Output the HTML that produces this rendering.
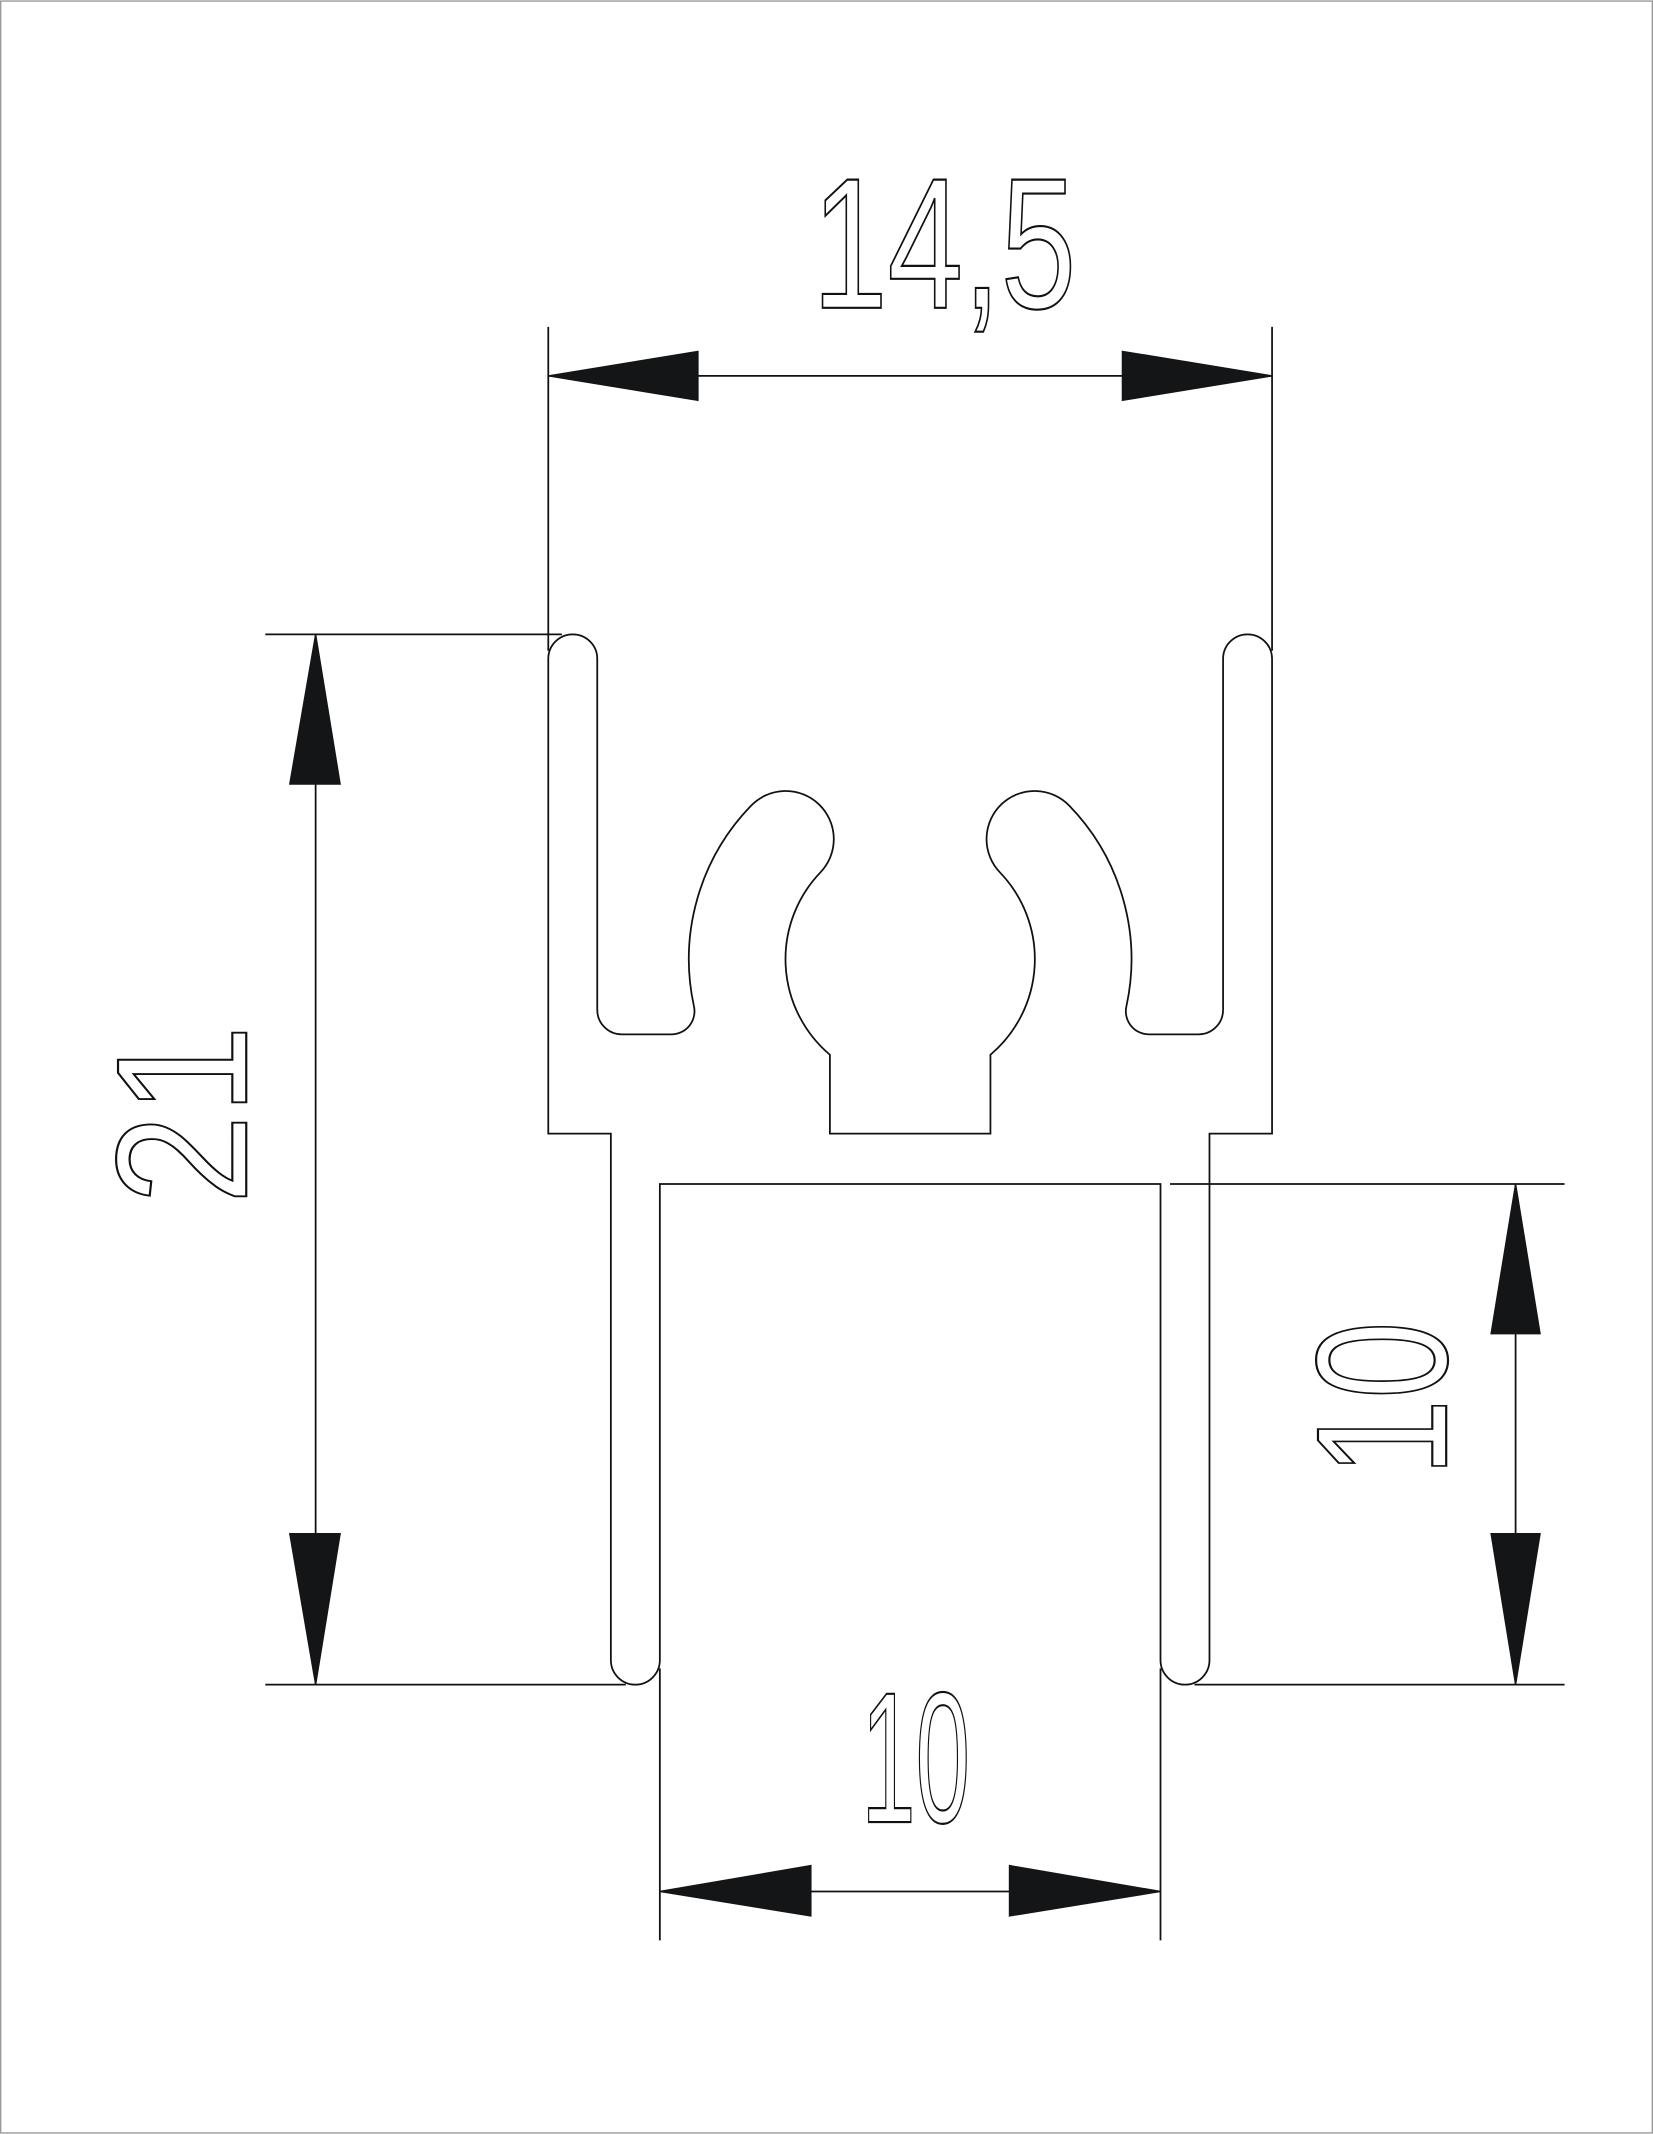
<!DOCTYPE html>
<html><head><meta charset="utf-8">
<style>html,body{margin:0;padding:0;background:#fff}svg{display:block}</style>
</head><body>
<svg xmlns="http://www.w3.org/2000/svg" width="1653" height="2134" viewBox="0 0 1215 1568">
<rect x="0.5" y="0.5" width="1214" height="1567" fill="#fff" stroke="#999" stroke-width="1"/>
<g fill="none" stroke="#111" stroke-width="1.3">
<path d="M403,484 A18,18 0 0 1 439,484 L439,742 A18,18 0 0 0 457,760 L493,760 A17,17 0 0 0 510,739 A162,162 0 0 1 552,592 A35,35 0 0 1 603,641 A92,92 0 0 0 610,775 L610,833 L728,833 L728,775 A92,92 0 0 0 735,641 A35,35 0 0 1 786,592 A162,162 0 0 1 828,739 A17,17 0 0 0 845,760 L881,760 A18,18 0 0 0 899,742 L899,484 A18,18 0 0 1 935,484 L935,833 L889,833 L889,1220 A18,18 0 0 1 853,1220 L853,870 L485,870 L485,1220 A18,18 0 0 1 449,1220 L449,833 L403,833 Z"/>
<!-- top dim -->
<line x1="403" y1="240" x2="403" y2="478"/>
<line x1="935" y1="240" x2="935" y2="478"/>
<line x1="403" y1="276" x2="935" y2="276"/>
<!-- left dim -->
<line x1="195" y1="466" x2="413" y2="466"/>
<line x1="195" y1="1238" x2="460" y2="1238"/>
<line x1="232" y1="466" x2="232" y2="1238"/>
<!-- right dim -->
<line x1="860" y1="870" x2="1150" y2="870"/>
<line x1="878" y1="1238" x2="1150" y2="1238"/>
<line x1="1114" y1="870" x2="1114" y2="1238"/>
<!-- bottom dim -->
<line x1="485" y1="1226" x2="485" y2="1426"/>
<line x1="853" y1="1226" x2="853" y2="1426"/>
<line x1="485" y1="1390" x2="853" y2="1390"/>
</g>
<g fill="#141516" stroke="#141516" stroke-width="1">
<polygon points="403,276 513,258 513,294"/>
<polygon points="935,276 825,258 825,294"/>
<polygon points="232,466 213,576 250,576"/>
<polygon points="232,1238 213,1127 250,1127"/>
<polygon points="1114,870 1096,980 1132,980"/>
<polygon points="1114,1238 1096,1127 1132,1127"/>
<polygon points="485,1390 596,1371 596,1408"/>
<polygon points="853,1390 742,1371 742,1408"/>
</g>
<g font-family="Liberation Sans, sans-serif" font-size="137" fill="none" stroke="#111" stroke-width="1.6">
<text x="597" y="226" textLength="194" lengthAdjust="spacingAndGlyphs">14,5</text>
<text x="633" y="1339" textLength="80" lengthAdjust="spacingAndGlyphs">10</text>
<text transform="translate(181,885) rotate(-90)" x="0" y="0" textLength="132" lengthAdjust="spacingAndGlyphs">21</text>
<text transform="translate(1063,1085) rotate(-90)" x="0" y="0" textLength="114" lengthAdjust="spacingAndGlyphs">10</text>
</g>
</svg>
</body></html>
